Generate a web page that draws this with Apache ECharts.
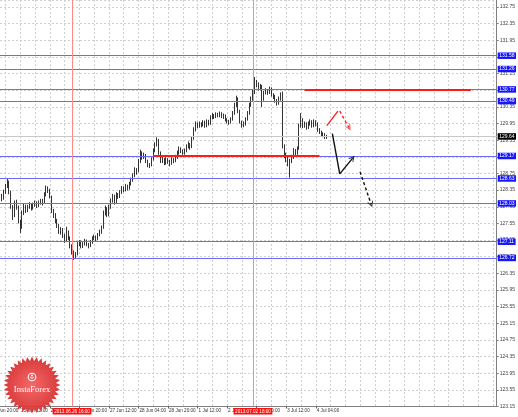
<!DOCTYPE html>
<html><head><meta charset="utf-8">
<script src="https://cdn.jsdelivr.net/npm/echarts@6/dist/echarts.min.js"></script>
<style>html,body{margin:0;padding:0;background:#fff}#c{width:518px;height:417px}</style>
</head><body><div id="c"></div>
<script>
// ---- data (EUR/JPY H1, open, close, low, high) ----
const firstBar = '2013.06.25 01:00';
const slotCount = 270;
const candles = [
[128.25,128.20,128.12,128.32],[128.20,128.15,128.08,128.26],[128.15,128.30,128.12,128.36],[128.30,128.45,128.26,128.50],
[128.45,128.55,128.40,128.64],[128.55,128.30,128.25,128.58],[128.30,127.95,127.90,128.34],[127.95,127.75,127.63,127.99],
[127.75,128.05,127.70,128.10],[128.05,127.95,127.88,128.12],[127.95,127.60,127.55,127.98],[127.60,127.45,127.32,127.64],
[127.45,127.80,127.42,127.86],[127.80,127.95,127.75,128.02],[127.95,127.85,127.80,128.00],[127.85,127.95,127.82,128.00],
[127.95,128.00,127.90,128.06],[128.00,127.92,127.86,128.04],[127.92,128.00,127.88,128.05],[128.00,128.05,127.95,128.10],
[128.05,127.98,127.92,128.08],[127.98,128.05,127.94,128.10],[128.05,128.10,128.00,128.14],[128.10,128.05,127.98,128.14],
[128.05,128.25,128.02,128.30],[128.25,128.40,128.20,128.46],[128.40,128.35,128.28,128.44],[128.35,128.20,128.15,128.38],
[128.20,127.85,127.80,128.22],[127.85,127.75,127.68,127.90],[127.75,127.60,127.55,127.80],[127.60,127.50,127.44,127.66],
[127.50,127.35,127.30,127.54],[127.35,127.40,127.28,127.46],[127.40,127.25,127.20,127.44],[127.25,127.15,127.08,127.30],
[127.15,127.35,127.12,127.47],[127.35,127.20,127.15,127.38],[127.20,127.00,126.95,127.24],[127.00,126.85,126.80,127.05],
[126.85,126.75,126.67,126.90],[126.75,126.80,126.70,126.86],[126.80,127.05,126.78,127.10],[127.05,127.10,127.00,127.15],
[127.10,127.00,126.95,127.14],[127.00,127.05,126.96,127.10],[127.05,127.12,127.02,127.18],[127.12,127.05,127.00,127.16],
[127.05,127.00,126.95,127.08],[127.00,127.10,126.98,127.15],[127.10,127.20,127.06,127.24],[127.20,127.22,127.15,127.28],
[127.22,127.18,127.12,127.26],[127.18,127.28,127.15,127.32],[127.28,127.35,127.24,127.40],[127.35,127.45,127.30,127.50],
[127.45,127.80,127.42,127.86],[127.80,127.90,127.74,127.98],[127.90,127.75,127.70,127.94],[127.75,127.95,127.72,128.00],
[127.95,128.10,127.90,128.15],[128.10,128.20,128.05,128.26],[128.20,128.05,128.00,128.24],[128.05,128.25,128.02,128.30],
[128.25,128.20,128.14,128.28],[128.20,128.30,128.16,128.35],[128.30,128.40,128.26,128.45],[128.40,128.35,128.30,128.44],
[128.35,128.45,128.32,128.50],[128.45,128.40,128.34,128.48],[128.40,128.50,128.36,128.55],[128.50,128.60,128.46,128.65],
[128.60,128.70,128.55,128.75],[128.70,128.85,128.66,128.90],[128.85,128.80,128.72,128.88],[128.80,129.05,128.78,129.10],
[129.05,129.25,129.00,129.32],[129.25,129.15,129.08,129.28],[129.15,129.20,129.10,129.25],[129.20,129.05,129.00,129.22],
[129.05,128.95,128.90,129.08],[128.95,128.95,128.88,129.00],[128.95,129.10,128.92,129.14],[129.10,129.30,129.06,129.35],
[129.30,129.45,129.26,129.50],[129.45,129.55,129.40,129.62],[129.55,129.25,129.20,129.58],[129.25,129.05,129.00,129.28],
[129.05,129.10,129.00,129.15],[129.10,129.00,128.95,129.12],[129.00,129.10,128.96,129.14],[129.10,129.05,128.98,129.12],
[129.05,129.00,128.92,129.08],[129.00,129.10,128.96,129.14],[129.10,129.05,129.00,129.12],[129.05,129.15,129.02,129.20],
[129.15,129.25,129.10,129.30],[129.25,129.35,129.20,129.40],[129.35,129.30,129.24,129.38],[129.30,129.25,129.20,129.33],
[129.25,129.30,129.20,129.35],[129.30,129.40,129.26,129.45],[129.40,129.45,129.35,129.52],[129.45,129.40,129.32,129.48],
[129.40,129.60,129.36,129.65],[129.60,129.80,129.56,129.86],[129.80,129.95,129.76,130.00],[129.95,129.90,129.84,129.98],
[129.90,129.95,129.85,130.00],[129.95,129.92,129.86,129.98],[129.92,129.98,129.88,130.03],[129.98,129.90,129.85,130.02],
[129.90,130.00,129.86,130.05],[130.00,129.95,129.90,130.04],[129.95,130.10,129.92,130.15],[130.10,130.15,130.05,130.20],
[130.15,130.12,130.06,130.18],[130.12,130.18,130.08,130.22],[130.18,130.15,130.10,130.21],[130.15,130.20,130.10,130.24],
[130.20,130.12,130.08,130.22],[130.12,130.15,130.06,130.19],[130.15,130.05,130.00,130.17],[130.05,130.00,129.95,130.08],
[130.00,129.98,129.92,130.04],[129.98,130.05,129.95,130.10],[130.05,130.20,130.02,130.25],[130.20,130.40,130.16,130.45],
[130.40,130.55,130.35,130.62],[130.55,130.25,130.20,130.58],[130.25,130.00,129.95,130.28],[130.00,129.90,129.85,130.02],
[129.90,129.95,129.86,130.00],[129.95,130.05,129.90,130.10],[130.05,130.20,130.02,130.25],[130.20,130.40,130.16,130.45],
[130.40,130.55,130.35,130.60],[130.55,130.70,130.50,130.76],[130.70,130.95,130.66,131.07],[130.95,130.90,130.82,131.00],
[130.90,130.80,130.74,130.94],[130.80,130.85,130.75,130.90],[130.85,130.55,130.35,130.88],[130.55,130.70,130.50,130.74],
[130.70,130.75,130.65,130.80],[130.75,130.70,130.64,130.78],[130.70,130.80,130.66,130.84],[130.80,130.65,130.60,130.82],
[130.65,130.60,130.54,130.68],[130.60,130.50,130.45,130.64],[130.50,130.45,130.38,130.54],[130.45,130.55,130.40,130.60],
[130.55,130.65,130.50,130.70],[130.65,129.40,129.35,130.72],[129.40,129.20,129.12,129.45],[129.20,129.10,129.02,129.25],
[129.10,129.00,128.92,129.15],[129.00,129.05,128.65,129.10],[129.05,129.15,129.00,129.20],[129.15,129.30,129.10,129.36],
[129.30,129.25,129.18,129.34],[129.25,129.35,129.20,129.40],[129.35,129.90,129.32,129.95],[129.90,130.05,129.85,130.20],
[130.05,129.90,129.84,130.08],[129.90,129.95,129.85,130.00],[129.95,129.85,129.80,129.98],[129.85,129.95,129.82,130.00],
[129.95,130.00,129.90,130.05],[130.00,129.90,129.85,130.03],[129.90,130.00,129.86,130.05],[130.00,129.95,129.88,130.03],
[129.95,129.80,129.75,129.98],[129.80,129.75,129.70,129.84],[129.75,129.70,129.64,129.78],[129.70,129.68,129.62,129.74],
[129.68,129.62,129.58,129.72],[129.62,129.64,129.58,129.68]
];
const blueLevels = [131.58, 131.26, 130.77, 130.49, 129.17, 128.63, 128.03, 127.11, 126.72];
const lastPrice = 129.64;
const yTicks = {min: 123.15, step: 0.40, max: 132.919};
const redSegments = [
  {value: 130.77, from: '2013.07.03 22:00', to: '2013.07.09 16:00'},
  {value: 129.17, from: '2013.06.28 12:00', to: '2013.07.04 06:00'}
];
const redVerticals = ['2013.06.26 16:00', '2013.07.02 18:00'];
const redArrowSolid = [['2013.07.04 10:00', 129.90], ['2013.07.04 16:00', 130.25]];
const redArrowDashed = [['2013.07.04 17:00', 130.25], ['2013.07.04 22:00', 129.85]];
const blackArrowSolid = [['2013.07.04 13:00', 129.71], ['2013.07.04 17:00', 128.74], ['2013.07.05 00:00', 129.12]];
const blackArrowDashed = [['2013.07.05 04:00', 128.79], ['2013.07.05 10:00', 128.01]];
const months = ['Jan','Feb','Mar','Apr','May','Jun','Jul','Aug','Sep','Oct','Nov','Dec'];

// ---- hourly categories, weekends skipped ----
function pad(n){return (n<10?'0':'')+n;}
function fmt(d){return d.getUTCFullYear()+'.'+pad(d.getUTCMonth()+1)+'.'+pad(d.getUTCDate())+' '+pad(d.getUTCHours())+':00';}
const categories = [];
(function(){
  const p = firstBar.split(/[. :]/).map(Number);
  let t = Date.UTC(p[0], p[1]-1, p[2], p[3]);
  while (categories.length < slotCount) {
    const d = new Date(t); const wd = d.getUTCDay();
    if (wd !== 0 && wd !== 6) categories.push(fmt(d));
    t += 3600000;
  }
})();
function shortLabel(s){const p=s.split(/[. ]/);return (+p[2])+' '+months[+p[1]-1]+' '+p[3];}

const FONT = 'Liberation Sans';
const labelEvery = 16, labelOffset = 11, gridEvery = 8, gridOffset = 3;
const showLabel = (i)=> i < candles.length && (i - labelOffset) % labelEvery === 0;

const chart = echarts.init(document.getElementById('c'), null, {renderer:'canvas'});

function seg(points, color, dashed, arrowLast){
  const out = [];
  for (let i=0;i<points.length-1;i++){
    const last = arrowLast && i===points.length-2;
    out.push([
      {coord: points[i], symbol: 'none'},
      {coord: points[i+1], symbol: last ? 'path://M5,0 L10,10 L8.6,10 L5,3.2 L1.4,10 L0,10 Z' : 'none', symbolSize: [6,6]}
    ]);
  }
  return {type:'line', data:[], silent:true, z:5,
    markLine:{silent:true, animation:false, symbol:['none','none'],
      lineStyle:{color, width:1.4, type: dashed ? [3,2.5] : 'solid'},
      itemStyle:{color}, label:{show:false}, data: out}};
}

const option = {
  animation: false,
  backgroundColor: '#ffffff',
  grid: {left: 0, right: 21, top: 0, bottom: 10.5},
  xAxis: {
    type: 'category', data: categories, boundaryGap: false,
    axisLine: {lineStyle: {color: '#808080', width: 1}},
    axisTick: {show: true, length: 2, interval: showLabel, lineStyle:{color:'#606060'}},
    axisLabel: {interval: showLabel, formatter: shortLabel, align: 'left',
      fontSize: 4.6, fontFamily: FONT, color: '#333', margin: 2, padding:[0,0,0,1]},
    splitLine: {show: true, interval: (i)=> (i - gridOffset) % gridEvery === 0,
      lineStyle: {color: '#cfcfcf', type: [2,2], width: 1}}
  },
  yAxis: {
    type: 'value', position: 'right', min: yTicks.min, max: yTicks.max, interval: yTicks.step, scale: true,
    axisLine: {show: true, lineStyle: {color: '#808080'}},
    axisTick: {show: true, length: 2, lineStyle:{color:'#808080'}},
    axisLabel: {fontSize: 5, fontFamily: FONT, color: '#444', margin: 3, showMaxLabel: false,
      formatter: (v)=> v.toFixed(2)},
    splitLine: {show: true, lineStyle: {color: '#cfcfcf', type: [2,2], width: 1}}
  },
  series: [
    {
      type: 'candlestick', data: candles, barWidth: 1.3, z: 3,
      itemStyle: {color: '#ffffff', color0: '#000000', borderColor: '#000000', borderColor0: '#000000', borderWidth: 0.8},
      markLine: {
        silent: true, animation: false, symbol: ['none','none'], precision: 2,
        data: [
          {yAxis: lastPrice, lineStyle:{color:'#c8c8c8', width:1, type:'solid'},
            label:{show:true, position:'end', distance:1, formatter:(p)=>p.value.toFixed(2), color:'#fff', backgroundColor:'#000',
              fontSize:5, fontFamily:FONT, padding:[1,1.5,0.5,1.5]}},
          ...blueLevels.map(v=>({yAxis: v, lineStyle:{color:'#6a6aff', width:1, type:'solid'},
            label:{show:true, position:'end', distance:1, formatter:(p)=>p.value.toFixed(2), color:'#fff', backgroundColor:'#1515ff',
              fontSize:5, fontFamily:FONT, padding:[1,1.5,0.5,1.5]}})),
          ...redVerticals.map(t=>({xAxis: t, lineStyle:{color:'#ff8a8a', width:1, type:'solid'},
            label:{show:true, position:'start', distance:1.5, formatter:()=>t, color:'#fff', backgroundColor:'#ff1010',
              fontSize:4.6, fontFamily:FONT, padding:[1,1.5,0.5,1.5]}})),
          ...redSegments.map(s=>[{coord:[s.from, s.value], lineStyle:{color:'#ff1a1a', width:1.8, type:'solid'}, label:{show:false}},
                                 {coord:[s.to, s.value]}])
        ]
      }
    },
    seg(redArrowSolid, '#ff2020', false, false),
    seg(redArrowDashed, '#ff2020', true, true),
    seg(blackArrowSolid, '#111111', false, true),
    seg(blackArrowDashed, '#111111', true, true)
  ]
};
chart.setOption(option);

// left clipped first time label and logo (decoration)
const px0 = chart.convertToPixel({xAxisIndex:0}, -5);
const star = [];
const cx = 32, cy = 385, n = 36;
for (let k=0;k<n*2;k++){const r = k%2 ? 24 : 28.5; const a = Math.PI*k/n; star.push([cx + r*Math.cos(a), cy + r*Math.sin(a)]);}
chart.setOption({graphic: [
  {type:'text', x: px0 + 1, y: 408.5, z: 1, style:{text:'24 Jun 20:00', fontSize:4.6, fontFamily:FONT, fill:'#333'}},
  {type:'polygon', z: 50, shape:{points: star},
    style:{fill: new echarts.graphic.RadialGradient(0.5,0.5,0.6,[{offset:0,color:'#f56060'},{offset:1,color:'#cf2626'}]), opacity:0.95}},
  {type:'circle', z: 51, shape:{cx: cx, cy: cy-8, r: 3.8}, style:{fill:'none', stroke:'#fff', lineWidth:1.1}},
  {type:'circle', z: 51, shape:{cx: cx, cy: cy-9.5, r: 1}, style:{fill:'#fff'}},
  {type:'polyline', z: 51, shape:{points:[[cx-2,cy-8],[cx,cy-6.5],[cx+2,cy-8]]}, style:{stroke:'#fff', lineWidth:0.9, fill:'none'}},
  {type:'text', z: 52, x: cx, y: cy+5, style:{text:'InstaForex', fontSize:8.5, fontFamily:'Liberation Serif', fill:'#fff', align:'center', verticalAlign:'middle'}}
]});
</script>
</body></html>
